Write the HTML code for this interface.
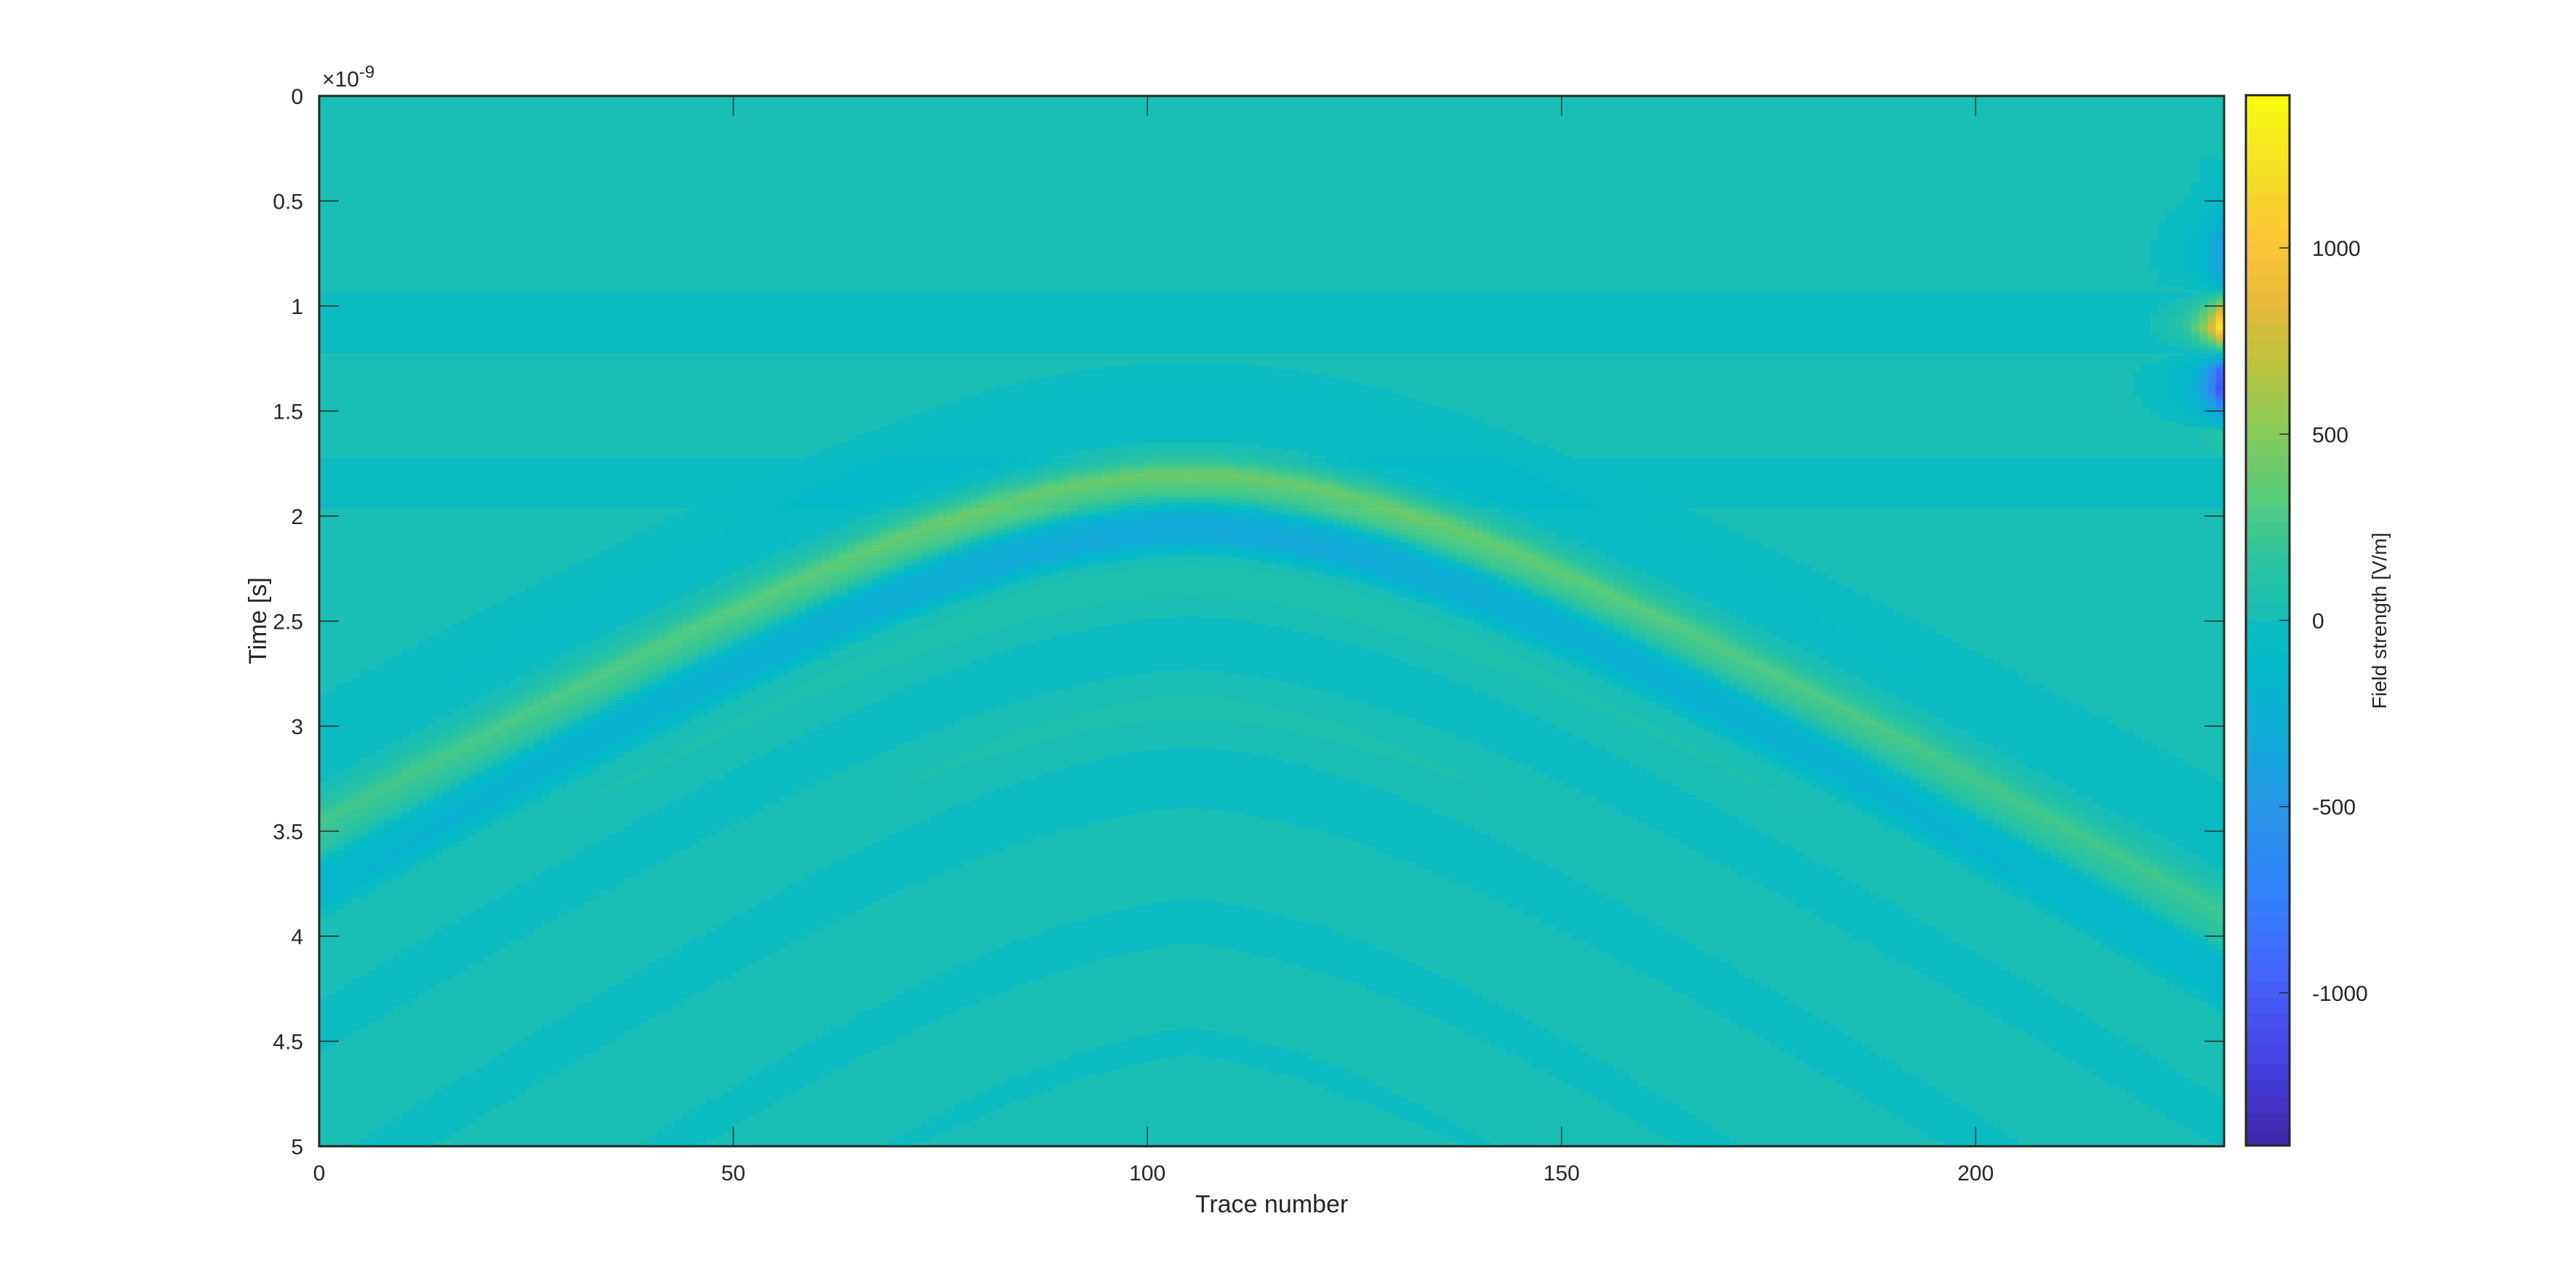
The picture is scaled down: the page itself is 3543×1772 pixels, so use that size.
<!DOCTYPE html>
<html><head><meta charset="utf-8"><style>
html,body{margin:0;padding:0;background:#fff;}
#wrap{position:relative;width:3543px;height:1772px;overflow:hidden;font-family:"Liberation Sans",Arial,sans-serif;}
#heat{position:absolute;left:439px;top:132px;width:2620px;height:1445px;image-rendering:pixelated;}
#cbar{position:absolute;left:3089px;top:131px;width:60px;height:1445px;image-rendering:pixelated;}
svg{position:absolute;left:0;top:0;}
</style></head><body>
<div id="wrap">
<canvas id="heat" width="231" height="400"></canvas>
<canvas id="cbar" width="1" height="64"></canvas>
<svg id="ax" width="3543" height="1772"></svg>
</div>
<script>
// ---- data ----
const traceCount = 231;
const timeMaxNs = 5;
const apexTrace = 105;
const apexDelayNs = 0.9;
const apexDepthNs = 0.9;
const slownessNs = 0.0227;
const waveletTau = [-0.6,-0.5,-0.4,-0.3,-0.2,-0.1,0.0,0.1,0.2,0.3,0.4,0.5,0.6,0.7,0.8,0.9,1.0,1.1,1.2,1.3,1.4,1.5,1.6,1.7,1.8,1.9,2.0,2.1,2.2,2.3,2.4,2.5,2.6,2.7,2.8,2.9,3.0];
const waveletVal = [0.03,-0.05,-0.15,-0.22,-0.2,0.15,1.0,0.55,-0.7,-0.8,0.05,0.12,0.06,-0.05,-0.09,-0.06,0.05,0.09,0.06,-0.03,-0.07,-0.07,-0.02,0.05,0.07,0.05,-0.02,-0.06,-0.05,0.02,0.05,0.03,-0.02,-0.04,-0.02,0.02,0.0];
const ampOffsets = [0,20,40,60,80,100,125];
const ampValues = [450,420,350,300,270,240,220];
const backgroundValue = 12;
const bandStarts = [0.94,1.72];
const bandEnds = [1.22,1.96];
const bandValue = -40;
const anomalyTimes = [0.3,0.4,0.5,0.6,0.7,0.8,0.9,1.0,1.1,1.2,1.3,1.4,1.5,1.6,1.7];
const anomalyVals = [-30,-40,-80,-250,-420,-450,-250,600,1350,300,-900,-1100,-500,100,50];
const anomalyEdgeTrace = 230;
const anomalyDecay = 2.3;
const cmin = -1410, cmax = 1410;
const yTicks = [0,0.5,1,1.5,2,2.5,3,3.5,4,4.5,5];
const yTickLabels = ['0','0.5','1','1.5','2','2.5','3','3.5','4','4.5','5'];
const xTicks = [0,50,100,150,200];
const cbTicks = [-1000,-500,0,500,1000];
// ---- colormap ----
const cmPos=[0,0.08,0.16,0.24,0.32,0.40,0.46,0.492,0.508,0.56,0.62,0.68,0.74,0.80,0.86,0.92,1];
const cmCol=[[62,38,168],[70,65,225],[69,100,250],[50,130,250],[40,150,232],[15,174,213],[3,184,200],[10,187,192],[25,191,181],[45,196,158],[90,203,120],[135,203,90],[185,194,62],[230,186,60],[254,196,55],[245,220,40],[249,251,14]];
function cmap(f){f=Math.max(0,Math.min(1,f));for(let i=1;i<cmPos.length;i++){if(f<=cmPos[i]){const a=(f-cmPos[i-1])/(cmPos[i]-cmPos[i-1]);return cmCol[i].map((c,j)=>Math.round(cmCol[i-1][j]+a*(c-cmCol[i-1][j])));}}return cmCol[cmCol.length-1];}
const lut=[];for(let i=0;i<64;i++)lut.push(cmap((i+0.5)/64));
function colorOf(v){let i=Math.floor((v-cmin)/(cmax-cmin)*64);i=Math.max(0,Math.min(63,i));return lut[i];}
function interp(xs,ys,x){if(x<=xs[0]||x>=xs[xs.length-1])return 0;for(let i=1;i<xs.length;i++){if(x<=xs[i]){const a=(x-xs[i-1])/(xs[i]-xs[i-1]);return ys[i-1]+a*(ys[i]-ys[i-1]);}}return 0;}
function field(tr,t){
  let v=backgroundValue;
  for(let b=0;b<bandStarts.length;b++) if(t>=bandStarts[b]&&t<bandEnds[b]) v+=bandValue;
  const off=Math.abs(tr-apexTrace);
  const arr=apexDelayNs+Math.sqrt(apexDepthNs*apexDepthNs+(slownessNs*off)*(slownessNs*off));
  const s=1+0.25*off/125;
  v+=interp(ampOffsets,ampValues,Math.min(off,124.9)+0.0001)*interp(waveletTau,waveletVal,(t-arr)/s);
  const dist=anomalyEdgeTrace-tr;
  if(dist<12) v+=Math.exp(-dist/anomalyDecay)*interp(anomalyTimes,anomalyVals,t);
  return v;
}
// ---- draw heatmap ----
const hc=document.getElementById('heat'),hx=hc.getContext('2d');
const img=hx.createImageData(231,400);
for(let r=0;r<400;r++){const t=(r+0.5)/400*timeMaxNs;for(let c=0;c<traceCount;c++){const col=colorOf(field(c,t));const k=(r*231+c)*4;img.data[k]=col[0];img.data[k+1]=col[1];img.data[k+2]=col[2];img.data[k+3]=255;}}
hx.putImageData(img,0,0);
const cc=document.getElementById('cbar'),cx=cc.getContext('2d');
for(let i=0;i<64;i++){const c=lut[63-i];cx.fillStyle='rgb('+c.join(',')+')';cx.fillRect(0,i,1,1);}
// ---- axes ----
const svg=document.getElementById('ax');const NS='http://www.w3.org/2000/svg';
const L=439,R=3059,T=132,B=1577;
function xs(v){return L+v/230*(R-L);} function ys(v){return T+v/5*(B-T);}
const CT=3089,CR=3149,CTop=131,CB=1576; function cy(v){return CTop+(cmax-v)/(cmax-cmin)*(CB-CTop);}
function el(tag,attrs,txt){const e=document.createElementNS(NS,tag);for(const k in attrs)e.setAttribute(k,attrs[k]);if(txt!==undefined)e.textContent=txt;svg.appendChild(e);return e;}
let e;
e=el('rect',{x:L,y:T,width:R-L,height:B-T,fill:'none',stroke:'#262626','stroke-width':3});


e=el('rect',{x:CT,y:CTop,width:CR-CT,height:CB-CTop,fill:'none',stroke:'#262626','stroke-width':3});


yTicks.forEach((v,i)=>{const y=ys(v);
 el('line',{x1:L,y1:y,x2:L+27,y2:y,stroke:'#262626','stroke-width':1.5});
 el('line',{x1:R,y1:y,x2:R-27,y2:y,stroke:'#262626','stroke-width':1.5});
 const t=el('text',{x:L-22,y:y+11,'text-anchor':'end','font-size':30,fill:'#262626'},yTickLabels[i]);
 
 });
xTicks.forEach(v=>{const x=xs(v);
 el('line',{x1:x,y1:B,x2:x,y2:B-27,stroke:'#262626','stroke-width':1.5});
 el('line',{x1:x,y1:T,x2:x,y2:T+27,stroke:'#262626','stroke-width':1.5});
 const t=el('text',{x:x,y:B+47,'text-anchor':'middle','font-size':30,fill:'#262626'},String(v));
 
 });
cbTicks.forEach(v=>{const y=cy(v);
 el('line',{x1:CR,y1:y,x2:CR-14,y2:y,stroke:'#262626','stroke-width':1.5});
 const t=el('text',{x:CR+31,y:y+11,'font-size':30,fill:'#262626'},String(v));
 
 });
e=el('text',{x:443,y:119,'font-size':30,fill:'#262626'});
e.innerHTML='×10<tspan dy="-12" font-size="24">-9</tspan>';


e=el('text',{x:(L+R)/2,y:1668,'text-anchor':'middle','font-size':34,fill:'#262626'},'Trace number');


e=el('text',{x:0,y:0,'text-anchor':'middle','font-size':34,fill:'#262626',transform:'translate(366,854) rotate(-90)'},'Time [s]');


e=el('text',{x:0,y:0,'text-anchor':'middle','font-size':28,fill:'#262626',transform:'translate(3282,854) rotate(-90)'},'Field strength [V/m]');


</script>
</body></html>
